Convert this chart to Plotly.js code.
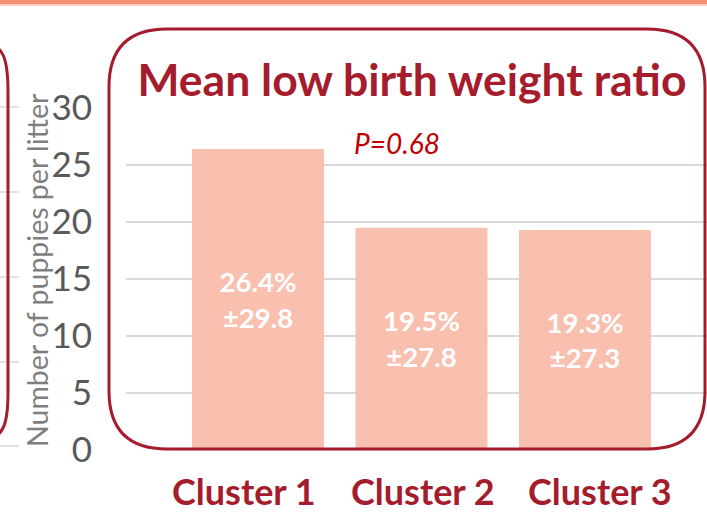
<!DOCTYPE html>
<html>
<head>
<meta charset="utf-8">
<script src="https://cdn.plot.ly/plotly-3.0.1.min.js"></script>
<style>html,body{margin:0;padding:0;background:#fff;}#chart{width:707px;height:515px;}</style>
</head>
<body>
<div id="chart"></div>
<script>
// ---- data ----
var categories = ["Cluster 1", "Cluster 2", "Cluster 3"];
var meanRatio = [26.4, 19.5, 19.3];
var sdRatio = [29.8, 27.8, 27.3];
var yTicks = [0, 5, 10, 15, 20, 25, 30];
var pValueText = "P=0.68";
var chartTitle = "Mean low birth weight ratio";
var yTitle = "Number of puppies per litter";

// ---- layout geometry (pixels) ----
var W = 707, H = 515;
var L = 126, R = 0, T = 108, B = 65;
var PW = W - L - R, PH = H - T - B;
function px(x) { return (x - L) / PW; }
function py(y) { return (H - B - y) / PH; }

var FONT = "Lato, 'Open Sans', 'DejaVu Sans', sans-serif";
var RED = "#A51C2C";

var labels = meanRatio.map(function (m, i) {
  return m.toFixed(1) + "%<br>\u00B1" + sdRatio[i].toFixed(1);
});

var trace = {
  type: "bar",
  x: categories,
  y: meanRatio,
  width: 0.807,
  marker: { color: "#F9BFAF", line: { width: 0 } },
  text: labels,
  texttemplate: "%{text}",
  textposition: "inside",
  insidetextanchor: "middle",
  constraintext: "none",
  textfont: { family: FONT, size: 27.5, color: "#FFFFFF", weight: 700 },
  hoverinfo: "skip"
};

// rounded box path
function P(x, y) { return px(x).toFixed(5) + "," + py(y).toFixed(5); }
function roundRect(x0, y0, x1, y1, r) {
  var p = [];
  p.push("M" + P(x0 + r, y0));
  p.push("L" + P(x1 - r, y0));
  p.push("Q" + P(x1, y0) + " " + P(x1, y0 + r));
  p.push("L" + P(x1, y1 - r));
  p.push("Q" + P(x1, y1) + " " + P(x1 - r, y1));
  p.push("L" + P(x0 + r, y1));
  p.push("Q" + P(x0, y1) + " " + P(x0, y1 - r));
  p.push("L" + P(x0, y0 + r));
  p.push("Q" + P(x0, y0) + " " + P(x0 + r, y0));
  p.push("Z");
  return p.join(" ");
}
var leftBox = "M" + P(-20, 42) + " C" + P(5, 42) + " " + P(8, 62) + " " + P(8, 92) +
  " L" + P(8, 392) + " C" + P(8, 422) + " " + P(5, 440) + " " + P(-20, 440);

var shapes = [
  { type: "rect", xref: "paper", yref: "paper", x0: px(0), x1: px(W), y0: py(4.5), y1: py(0),
    fillcolor: "#F99273", line: { width: 0 }, layer: "above" },
  { type: "rect", xref: "paper", yref: "paper", x0: px(0), x1: px(W), y0: py(6), y1: py(4.5),
    fillcolor: "#FDD3C5", line: { width: 0 }, layer: "above" },
  { type: "path", xref: "paper", yref: "paper", path: roundRect(109, 29, 705, 449, 58),
    line: { color: RED, width: 3 }, fillcolor: "rgba(0,0,0,0)", layer: "above" },
  { type: "path", xref: "paper", yref: "paper", path: leftBox,
    line: { color: RED, width: 3 }, fillcolor: "rgba(0,0,0,0)", layer: "above" }
];
[107, 192, 277, 362, 446].forEach(function (y) {
  shapes.push({ type: "line", xref: "paper", yref: "paper", x0: px(0), x1: px(19), y0: py(y), y1: py(y),
    line: { color: "#D9D9D9", width: 1.5 }, layer: "below" });
});

var annotations = [
  { xref: "paper", yref: "paper", x: px(37), y: py(270), text: yTitle, textangle: -90,
    showarrow: false, xanchor: "center", yanchor: "middle",
    font: { family: FONT, size: 28.5, color: "#7F7F7F" } },
  { xref: "paper", yref: "paper", x: px(397), y: py(143), text: "<i>" + pValueText + "</i>",
    showarrow: false, xanchor: "center", yanchor: "middle",
    font: { family: FONT, size: 28, color: "#C00000" } }
];
var labelShift = [-14, 2, 15];
categories.forEach(function (c, i) {
  annotations.push({ xref: "x", yref: "paper", x: c, y: py(514), xshift: labelShift[i],
    text: "<b>" + c + "</b>", showarrow: false, xanchor: "center", yanchor: "bottom",
    borderpad: 0,
    font: { family: FONT, size: 36, color: RED } });
});

var layout = {
  width: W, height: H,
  margin: { l: L, r: R, t: T, b: B, pad: 0 },
  paper_bgcolor: "#FFFFFF",
  plot_bgcolor: "#FFFFFF",
  showlegend: false,
  title: { text: "<b>" + chartTitle + "</b>", x: 412 / W, xanchor: "center", xref: "container",
    y: (H - 80) / H, yanchor: "middle", yref: "container",
    font: { family: FONT, size: 44.5, color: RED } },
  xaxis: { type: "category", range: [-0.807, 2.746], showticklabels: false, showgrid: false,
    zeroline: false, showline: false, ticks: "", fixedrange: true },
  yaxis: { range: [0, 30], tickvals: yTicks, ticktext: yTicks.map(String), showgrid: true,
    gridcolor: "#D9D9D9", gridwidth: 1.5, zeroline: false, showline: false, ticks: "",
    ticklabelstandoff: 33,
    tickfont: { family: FONT, size: 35, color: "#595959" }, fixedrange: true },
  shapes: shapes,
  annotations: annotations
};

Plotly.newPlot("chart", [trace], layout, { displayModeBar: false, staticPlot: true });
</script>
</body>
</html>
